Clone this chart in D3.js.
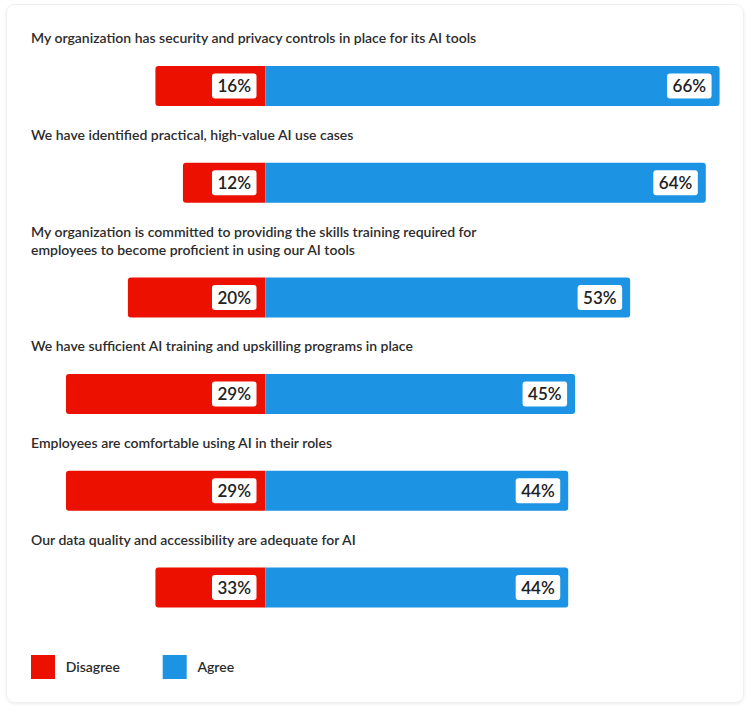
<!DOCTYPE html>
<html>
<head>
<meta charset="utf-8">
<style>
    body { margin: 0; background: #fff; }
    text { font-family: Lato, "Open Sans", sans-serif; }
    .title { font-size: 14px; font-weight: 600; fill: #2c2c2c; }
    .pct { font-size: 17px; font-weight: 600; fill: #222; }
    .legend { font-size: 14px; font-weight: 600; fill: #2c2c2c; }
</style>
</head>
<body>
<svg id="chart" width="750" height="712"></svg>
<script src="https://cdnjs.cloudflare.com/ajax/libs/d3/7.8.5/d3.min.js"></script>
<script>
    // statements, one entry per line of the question text
    const statements = [
        ["My organization has security and privacy controls in place for its AI tools"],
        ["We have identified practical, high-value AI use cases"],
        ["My organization is committed to providing the skills training required for",
         "employees to become proficient in using our AI tools"],
        ["We have sufficient AI training and upskilling programs in place"],
        ["Employees are comfortable using AI in their roles"],
        ["Our data quality and accessibility are adequate for AI"]
    ]
    const disagree = [16, 12, 20, 29, 29, 33]
    // the source graphic draws the last red bar as long as the first one
    const disagreeBar = [16, 12, 20, 29, 29, 16]
    const agree = [66, 64, 53, 45, 44, 44]
    const seriesNames = ["Disagree", "Agree"]
    const seriesColors = ["#eb1000", "#1d93e3"]

    let svg = d3.select("#chart")

    // card
    let defs = svg.append("defs")
    let f = defs.append("filter").attr("id", "shadow")
        .attr("x", "-5%").attr("y", "-5%").attr("width", "110%").attr("height", "110%")
    f.append("feDropShadow").attr("dx", 0).attr("dy", 1).attr("stdDeviation", 1.5)
        .attr("flood-color", "#000").attr("flood-opacity", 0.08)
    svg.append("rect")
        .attr("x", 6.5).attr("y", 4.5).attr("width", 737).attr("height", 698)
        .attr("rx", 8)
        .attr("fill", "#fff").attr("stroke", "#efefef")
        .attr("filter", "url(#shadow)")

    let center = 265.5
    let unit = 6.88
    let x = d3.scaleLinear()
        .domain([-30, 70])
        .range([center - 30 * unit, center + 70 * unit])

    // vertical layout: each row is its title lines + a bar
    let lineH = 18, barH = 40
    let rows = []
    let cursor = 38.3
    statements.forEach((lines, i) => {
        rows.push({
            lines: lines,
            titleY: cursor,
            barY: cursor + (lines.length - 1) * lineH + 27.7,
            disagree: disagree[i],
            disagreeBar: disagreeBar[i],
            agree: agree[i]
        })
        cursor += lines.length * lineH + 78.7
    })

    // bar with rounded outer corners only
    function barPath(x0, x1, y, h, r, roundLeft) {
        let p = d3.path()
        if (roundLeft) {
            p.moveTo(x1, y)
            p.lineTo(x0 + r, y)
            p.arcTo(x0, y, x0, y + r, r)
            p.lineTo(x0, y + h - r)
            p.arcTo(x0, y + h, x0 + r, y + h, r)
            p.lineTo(x1, y + h)
        } else {
            p.moveTo(x0, y)
            p.lineTo(x1 - r, y)
            p.arcTo(x1, y, x1, y + r, r)
            p.lineTo(x1, y + h - r)
            p.arcTo(x1, y + h, x1 - r, y + h, r)
            p.lineTo(x0, y + h)
        }
        p.closePath()
        return p.toString()
    }

    let row = svg.selectAll("g.row").data(rows).enter()
        .append("g").attr("class", "row")

    row.each(function(d) {
        let g = d3.select(this)
        d.lines.forEach((t, j) => {
            g.append("text").attr("class", "title")
                .attr("x", 31)
                .attr("y", d.titleY + j * lineH)
                .attr("dy", "0.35em")
                .text(t)
        })

        g.append("path")
            .attr("d", barPath(x(-d.disagreeBar), x(0), d.barY, barH, 3, true))
            .attr("fill", seriesColors[0])
        g.append("path")
            .attr("d", barPath(x(0), x(d.agree), d.barY, barH, 3, false))
            .attr("fill", seriesColors[1])

        // value boxes
        let boxes = [
            { label: d.disagree + "%", right: x(0) - 9 },
            { label: d.agree + "%", right: x(d.agree) - 8 }
        ]
        boxes.forEach(b => {
            let rect = g.append("rect")
                .attr("y", d.barY + 7.5).attr("height", 25).attr("rx", 3)
                .attr("fill", "#fff")
            let txt = g.append("text").attr("class", "pct")
                .attr("y", d.barY + barH / 2)
                .attr("dy", "0.36em")
                .attr("text-anchor", "middle")
                .text(b.label)
            let w = txt.node().getComputedTextLength() + 11
            rect.attr("x", b.right - w).attr("width", w)
            txt.attr("x", b.right - w / 2)
        })
    })

    // legend
    let legendX = d3.scaleOrdinal().domain(seriesNames).range([31, 162.7])
    let lg = svg.selectAll("g.legend-item").data(seriesNames).enter()
        .append("g").attr("class", "legend-item")
        .attr("transform", d => "translate(" + legendX(d) + ",655)")
    lg.append("rect")
        .attr("width", 24).attr("height", 24)
        .attr("fill", (d, i) => seriesColors[i])
    lg.append("text").attr("class", "legend")
        .attr("x", 34.7).attr("y", 12).attr("dy", "0.35em")
        .text(d => d)
</script>
</body>
</html>
